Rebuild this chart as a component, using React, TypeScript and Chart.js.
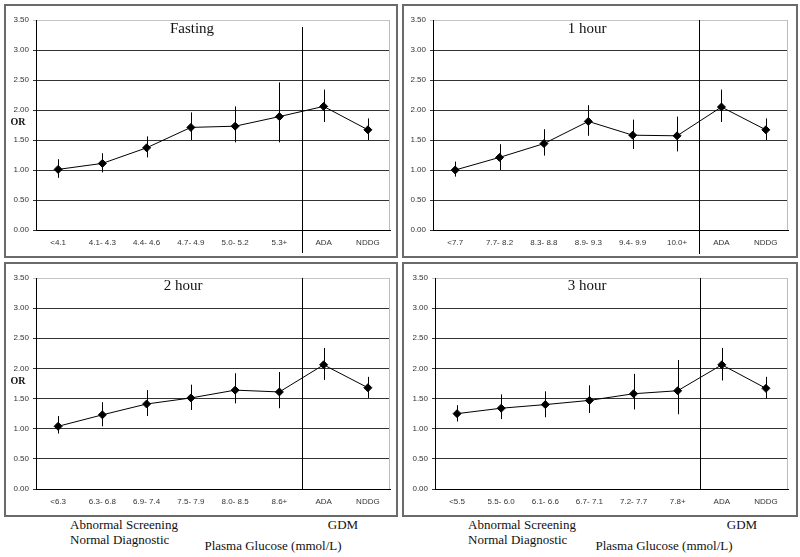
import React, { useEffect, useRef } from "react";
import { Chart, registerables } from "chart.js";

Chart.register(...registerables);

// ---------- data ----------
const CATS_FASTING = ["<4.1", "4.1- 4.3", "4.4- 4.6", "4.7- 4.9", "5.0- 5.2", "5.3+", "ADA", "NDDG"];
const OR_FASTING = [1.01, 1.11, 1.37, 1.71, 1.73, 1.89, 2.06, 1.67];
const LO_FASTING = [0.87, 0.96, 1.21, 1.5, 1.46, 1.46, 1.8, 1.5];
const HI_FASTING = [1.18, 1.28, 1.56, 1.96, 2.06, 2.46, 2.34, 1.86];

const CATS_1H = ["<7.7", "7.7- 8.2", "8.3- 8.8", "8.9- 9.3", "9.4- 9.9", "10.0+", "ADA", "NDDG"];
const OR_1H = [1.0, 1.21, 1.44, 1.81, 1.58, 1.57, 2.05, 1.67];
const LO_1H = [0.89, 1.0, 1.24, 1.57, 1.35, 1.31, 1.8, 1.5];
const HI_1H = [1.14, 1.43, 1.68, 2.08, 1.84, 1.89, 2.34, 1.86];

const CATS_2H = ["<6.3", "6.3- 6.8", "6.9- 7.4", "7.5- 7.9", "8.0- 8.5", "8.6+", "ADA", "NDDG"];
const OR_2H = [1.04, 1.23, 1.41, 1.51, 1.64, 1.61, 2.06, 1.68];
const LO_2H = [0.92, 1.04, 1.21, 1.31, 1.42, 1.34, 1.81, 1.51];
const HI_2H = [1.21, 1.44, 1.64, 1.73, 1.92, 1.94, 2.34, 1.86];

const CATS_3H = ["<5.5", "5.5- 6.0", "6.1- 6.6", "6.7- 7.1", "7.2- 7.7", "7.8+", "ADA", "NDDG"];
const OR_3H = [1.25, 1.34, 1.4, 1.47, 1.58, 1.63, 2.06, 1.67];
const LO_3H = [1.12, 1.16, 1.19, 1.26, 1.32, 1.24, 1.8, 1.5];
const HI_3H = [1.39, 1.57, 1.62, 1.72, 1.91, 2.14, 2.34, 1.86];

const Y_MIN = 0;
const Y_MAX = 3.5;
const Y_STEP = 0.5;

const TITLES = ["Fasting", "1 hour", "2 hour", "3 hour"];

const SANS = "'Liberation Sans', Arial, sans-serif";
const SERIF = "'Liberation Serif', 'Times New Roman', serif";

type PanelProps = {
  left: number;
  top: number;
  width: number;
  height: number;
  axisWidth: number;
  padRight: number;
  labels: string[];
  values: number[];
  lo: number[];
  hi: number[];
  sepTopOffset: number;
  sepBottomExtra: number;
};

function Panel(p: PanelProps) {
  const ref = useRef<HTMLCanvasElement | null>(null);
  useEffect(() => {
    if (!ref.current) return;
    const errPlugin = {
      id: "errbars",
      beforeDatasetsDraw(chart: any) {
        const { ctx, scales } = chart;
        const xs = scales.x;
        const ys = scales.y;
        ctx.save();
        ctx.strokeStyle = "#000";
        ctx.lineWidth = 1;
        for (let i = 0; i < p.values.length; i++) {
          const x = Math.round(xs.getPixelForValue(i)) + 0.5;
          ctx.beginPath();
          ctx.moveTo(x, ys.getPixelForValue(p.lo[i]));
          ctx.lineTo(x, ys.getPixelForValue(p.hi[i]));
          ctx.stroke();
        }
        ctx.restore();
      },
      afterDraw(chart: any) {
        const { ctx, scales, chartArea } = chart;
        const xs = scales.x;
        ctx.save();
        // light right border of plot area
        ctx.strokeStyle = "#bdbdbd";
        ctx.lineWidth = 1;
        ctx.beginPath();
        const rx = Math.round(chartArea.right) - 0.5;
        ctx.moveTo(rx, chartArea.top);
        ctx.lineTo(rx, chartArea.bottom);
        ctx.stroke();
        // separator line between groups
        const sx = Math.round((xs.getPixelForValue(5) + xs.getPixelForValue(6)) / 2) + 0.5;
        ctx.strokeStyle = "#000";
        ctx.beginPath();
        ctx.moveTo(sx, chartArea.top + p.sepTopOffset);
        ctx.lineTo(sx, chartArea.bottom + p.sepBottomExtra);
        ctx.stroke();
        ctx.restore();
      },
    };
    const chart = new Chart(ref.current, {
      type: "line",
      data: {
        labels: p.labels,
        datasets: [
          {
            data: p.values,
            borderColor: "#000",
            borderWidth: 1,
            pointStyle: "rectRot",
            pointRadius: 4,
            pointBorderWidth: 1,
            pointBackgroundColor: "#000",
            pointBorderColor: "#000",
            tension: 0,
            fill: false,
          },
        ],
      },
      options: {
        responsive: false,
        animation: false,
        devicePixelRatio: 1,
        layout: { padding: { left: 0, top: 15, right: p.padRight, bottom: 0 } },
        plugins: { legend: { display: false }, tooltip: { enabled: false } },
        scales: {
          x: {
            type: "category",
            offset: true,
            grid: { display: false, drawTicks: false },
            border: { color: "#000", width: 1 },
            ticks: {
              font: { family: SANS, size: 8 },
              color: "#333",
              padding: 8,
              maxRotation: 0,
              autoSkip: false,
            },
            afterFit: (s: any) => {
              s.height = 27;
            },
          },
          y: {
            min: Y_MIN,
            max: Y_MAX,
            grid: {
              color: (c: any) => (c.tick && c.tick.value === Y_MAX ? "#c4c4c4" : "#333"),
              tickLength: 3,
              lineWidth: 1,
            },
            border: { color: "#000", width: 1 },
            ticks: {
              stepSize: Y_STEP,
              font: { family: SANS, size: 8 },
              color: "#333",
              padding: 4,
              callback: (v: any) => Number(v).toFixed(2),
            },
            afterFit: (s: any) => {
              s.width = p.axisWidth;
            },
          },
        },
      } as any,
      plugins: [errPlugin],
    });
    return () => chart.destroy();
  }, []);
  return (
    <canvas
      ref={ref}
      width={p.width}
      height={p.height}
      style={{ position: "absolute", left: p.left, top: p.top, width: p.width, height: p.height, display: "block" }}
    />
  );
}

function Box({ left, top, width, height }: { left: number; top: number; width: number; height: number }) {
  return (
    <div
      style={{
        position: "absolute",
        left,
        top,
        width,
        height,
        boxSizing: "border-box",
        border: "2px solid #6a6a6a",
      }}
    />
  );
}

function Txt({ x, y, children, size = 13, bold = false, center = false }: any) {
  return (
    <div
      style={{
        position: "absolute",
        left: x,
        top: y,
        transform: center ? "translate(-50%, -50%)" : "translate(0, -50%)",
        fontFamily: SERIF,
        fontSize: size,
        fontWeight: bold ? "bold" : "normal",
        color: "#111",
        whiteSpace: "nowrap",
        lineHeight: 1,
      }}
    >
      {children}
    </div>
  );
}

export default function App() {
  return (
    <div style={{ position: "absolute", left: 0, top: 0, width: 800, height: 557, background: "#fff", overflow: "hidden" }}>
      <Box left={4} top={4} width={394} height={254} />
      <Box left={402} top={4} width={396} height={254} />
      <Box left={4} top={262} width={394} height={255} />
      <Box left={402} top={262} width={396} height={255} />

      <Panel left={5} top={5} width={392} height={252} axisWidth={31} padRight={7}
        labels={CATS_FASTING} values={OR_FASTING} lo={LO_FASTING} hi={HI_FASTING}
        sepTopOffset={7} sepBottomExtra={23} />
      <Panel left={403} top={5} width={394} height={252} axisWidth={30} padRight={9}
        labels={CATS_1H} values={OR_1H} lo={LO_1H} hi={HI_1H}
        sepTopOffset={0} sepBottomExtra={24} />
      <Panel left={5} top={263} width={392} height={253} axisWidth={31} padRight={7}
        labels={CATS_2H} values={OR_2H} lo={LO_2H} hi={HI_2H}
        sepTopOffset={0} sepBottomExtra={0} />
      <Panel left={403} top={263} width={394} height={253} axisWidth={32} padRight={9}
        labels={CATS_3H} values={OR_3H} lo={LO_3H} hi={HI_3H}
        sepTopOffset={0} sepBottomExtra={0} />

      <Txt x={192} y={28} size={15} center>{TITLES[0]}</Txt>
      <Txt x={587} y={28} size={15} center>{TITLES[1]}</Txt>
      <Txt x={183} y={285} size={15} center>{TITLES[2]}</Txt>
      <Txt x={587} y={285} size={15} center>{TITLES[3]}</Txt>

      <Txt x={18} y={122} size={10} bold center>OR</Txt>
      <Txt x={18} y={381} size={10} bold center>OR</Txt>

      <Txt x={70} y={524}>Abnormal Screening</Txt>
      <Txt x={70} y={539}>Normal Diagnostic</Txt>
      <Txt x={343} y={524} center>GDM</Txt>
      <Txt x={273} y={545} center>Plasma Glucose (mmol/L)</Txt>

      <Txt x={468} y={524}>Abnormal Screening</Txt>
      <Txt x={468} y={539}>Normal Diagnostic</Txt>
      <Txt x={742} y={524} center>GDM</Txt>
      <Txt x={664} y={545} center>Plasma Glucose (mmol/L)</Txt>
    </div>
  );
}
